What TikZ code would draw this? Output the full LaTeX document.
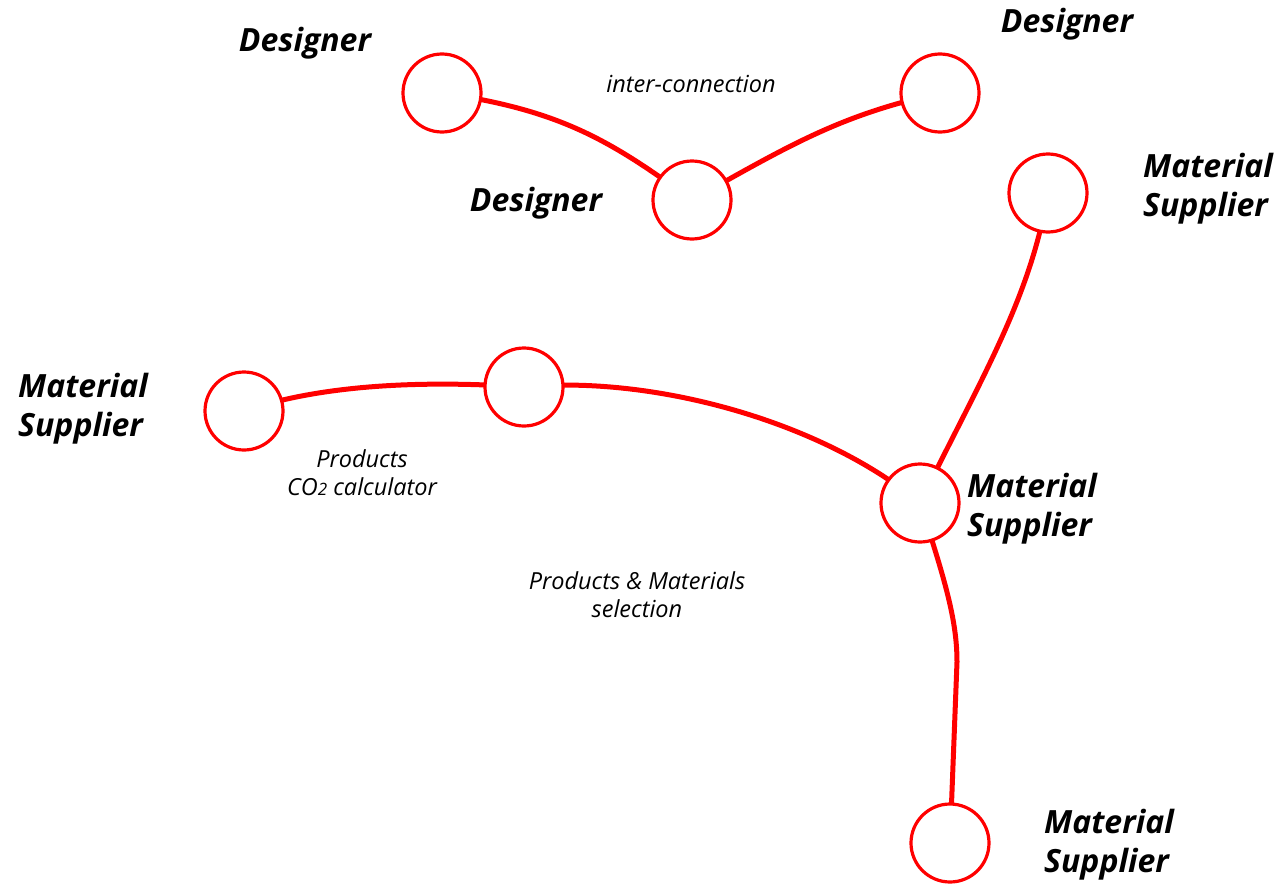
\documentclass[tikz,border=0pt]{standalone}
\usepackage{fontspec}
\setmainfont{Open Sans}
\definecolor{linkred}{RGB}{255,0,0}
\begin{document}
\begin{tikzpicture}[x=1pt,y=-1pt,
  actor/.style={circle,draw=linkred,line width=3.2pt,minimum size=78pt,inner sep=0pt,fill=white},
  link/.style={draw=linkred,line width=5pt},
  role/.style={font=\fontsize{32}{39}\selectfont\bfseries\itshape,align=left,inner sep=0pt},
  note/.style={font=\fontsize{23.5}{28}\selectfont\itshape,align=center,inner sep=0pt}]
\useasboundingbox (0,0) rectangle (1278,886);
\fill[white] (0,0) rectangle (1278,886);
% connectors first
\coordinate (d1c) at (442,93);
\coordinate (d2c) at (940,93);
\coordinate (d3c) at (692,200);
\coordinate (m1c) at (1048,193);
\coordinate (m2c) at (244,411);
\coordinate (pc)  at (524,387);
\coordinate (m3c) at (920,503);
\coordinate (m4c) at (950,843);
\coordinate (kink) at (957,662);
\path[link] (d1c) .. controls (560,110) and (610,140) .. (d3c);
\path[link] (d3c) .. controls (790,145) and (840,115) .. (d2c);
\path[link] (m1c) .. controls (1030,300) and (980,380) .. (m3c);
\path[link] (m2c) .. controls (320,385) and (420,380) .. (pc);
\path[link] (pc) .. controls (650,375) and (820,420) .. (m3c);
\path[link] (m3c) .. controls (945,580) and (957,620) .. (kink) -- (m4c);
% circles
\node[actor] (d1) at (d1c) {};
\node[actor] (d2) at (d2c) {};
\node[actor] (d3) at (d3c) {};
\node[actor] (m1) at (m1c) {};
\node[actor] (m2) at (m2c) {};
\node[actor] (p)  at (pc) {};
\node[actor] (m3) at (m3c) {};
\node[actor] (m4) at (m4c) {};
% labels
\node[role] (ld1) at (305,43) {Designer};
\node[role] (ld2) at (1067,24) {Designer};
\node[role] (ld3) at (536,203) {Designer};
\node[role,anchor=west] (lm1) at (1143,189) {Material\\Supplier};
\node[role,anchor=west] (lm2) at (18,409) {Material\\Supplier};
\node[role,anchor=west] (lm3) at (967,509) {Material\\Supplier};
\node[role,anchor=west] (lm4) at (1044,845) {Material\\Supplier};
\node[note] (n1) at (691,84) {inter-connection};
\node[note] (n2) at (362,473) {Products\\CO{\fontsize{17}{17}\selectfont 2} calculator};
\node[note] (n3) at (637,595) {Products \& Materials\\selection};
\end{tikzpicture}
\end{document}
